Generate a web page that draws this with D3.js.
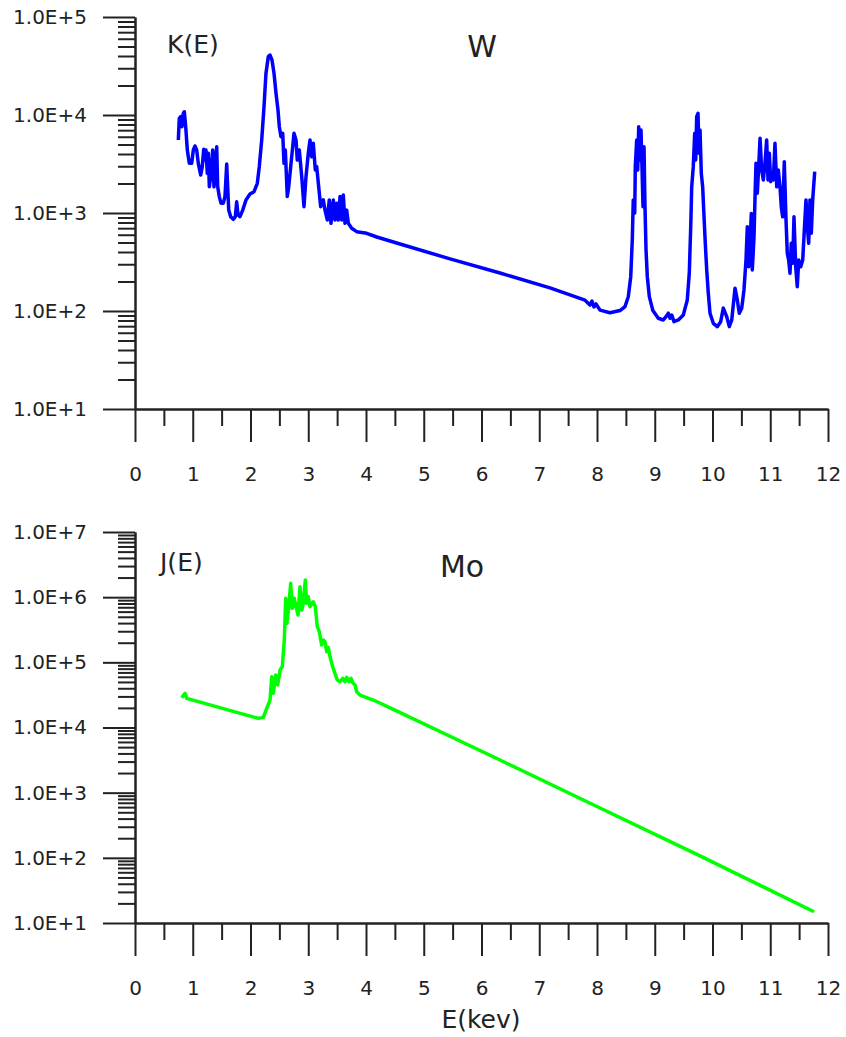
<!DOCTYPE html>
<html>
<head>
<meta charset="utf-8">
<script src="https://cdn.jsdelivr.net/npm/d3@7"></script>
<style>
  body { margin: 0; background: #fff; }
  svg { display: block; font-family: 'DejaVu Sans', sans-serif; }
  .axis path, .axis line { stroke: #222; stroke-width: 2; }
  .axis text { font-family: 'DejaVu Sans', sans-serif; font-size: 20px; fill: #222; }
</style>
</head>
<body>
<script>
// W spectrum K(E)
const energyW = [0.75, 0.767, 0.791, 0.814, 0.836, 0.854, 0.878, 0.906, 0.94, 0.982, 1.01, 1.039, 1.068, 1.096, 1.138,
  1.165, 1.19, 1.207, 1.229, 1.252, 1.269, 1.287, 1.311, 1.345, 1.368, 1.397, 1.415, 1.432, 1.46, 1.489, 1.529, 1.558,
  1.588, 1.605, 1.623, 1.657, 1.702, 1.737, 1.761, 1.784, 1.818, 1.865, 1.922, 1.991, 2.061, 2.118, 2.152, 2.194,
  2.234, 2.268, 2.308, 2.338, 2.372, 2.407, 2.442, 2.476, 2.499, 2.528, 2.558, 2.58, 2.603, 2.637, 2.662, 2.696,
  2.731, 2.753, 2.788, 2.81, 2.845, 2.887, 2.926, 2.961, 3.001, 3.03, 3.06, 3.087, 3.122, 3.146, 3.181, 3.215, 3.261,
  3.29, 3.33, 3.364, 3.394, 3.434, 3.463, 3.493, 3.52, 3.55, 3.579, 3.607, 3.636, 3.666, 3.694, 3.752, 3.839, 4.012,
  4.186, 4.589, 5.455, 6.32, 7.186, 7.792, 7.879, 7.913, 7.948, 7.983, 8.052, 8.225, 8.398, 8.485, 8.542, 8.584,
  8.611, 8.628, 8.653, 8.663, 8.687, 8.705, 8.722, 8.745, 8.762, 8.779, 8.797, 8.814, 8.831, 8.849, 8.871, 8.906,
  8.965, 9.061, 9.148, 9.195, 9.235, 9.264, 9.294, 9.333, 9.408, 9.494, 9.563, 9.598, 9.623, 9.64, 9.667, 9.692,
  9.709, 9.726, 9.749, 9.766, 9.784, 9.806, 9.83, 9.848, 9.875, 9.9, 9.927, 9.957, 10.014, 10.083, 10.142, 10.187,
  10.246, 10.291, 10.333, 10.39, 10.43, 10.464, 10.506, 10.545, 10.58, 10.603, 10.627, 10.649, 10.672, 10.689,
  10.719, 10.741, 10.753, 10.776, 10.8, 10.823, 10.852, 10.88, 10.909, 10.938, 10.961, 10.984, 11.008, 11.03, 11.053,
  11.082, 11.112, 11.139, 11.169, 11.191, 11.215, 11.243, 11.273, 11.295, 11.319, 11.342, 11.364, 11.389, 11.411,
  11.441, 11.468, 11.493, 11.528, 11.562, 11.584, 11.619, 11.642, 11.666, 11.688, 11.711, 11.735, 11.77];
const kW = [5560, 9250, 9610, 7600, 10400, 10800, 7600, 4390, 3210, 3210, 4390, 4830, 4390, 3210, 2440,
  2970, 4470, 3470, 4390, 2540, 4070, 1850, 2350, 4390, 1850, 3470, 4750, 1850, 1470, 1260, 1260, 1470,
  3160, 1850, 1070, 917, 862, 917, 1300, 955, 917, 1070, 1360, 1560, 1650, 2010, 2970, 5560,
  12200, 26700, 39400, 40900, 36400, 26700, 16600, 11250, 7600, 6010, 6500, 3210, 4390, 1470, 1850, 2970,
  4750, 6500, 5560, 3470, 4390, 2350, 1160, 2350, 4070, 5560, 3750, 5140, 2750, 2970, 1850, 1160, 1360,
  1070, 849, 1360, 785, 1360, 849, 1260, 849, 1470, 849, 1530, 785, 1070, 785, 698, 645, 621,
  569, 483, 340, 244, 172, 129, 115, 126, 110, 118, 102, 96, 101, 111, 140, 224,
  530, 1360, 1000, 2970, 5560, 2750, 7600, 3470, 7030, 2970, 1160, 4750, 1160, 419, 224, 140,
  102, 84.3, 81, 87.5, 95, 84.3, 91, 77.8, 81, 91, 129, 243, 725, 1850, 2970, 6500,
  3470, 9610, 10400, 4070, 7030, 2540, 1850, 1070, 491, 262, 152, 95, 74.9, 69.2, 77.8, 107,
  87.5, 69.2, 81, 171, 129, 95, 107, 164, 331, 725, 283, 453, 990, 262,
  573, 1850, 3210, 1590, 2970, 5780, 2750, 2170, 3210, 5560, 2170, 4070, 2090, 2540, 2170,
  5140, 1850, 2750, 1850, 1160, 917, 3340, 849, 388, 331, 243, 491, 307, 917,
  283, 177, 331, 283, 331, 573, 1360, 725, 491, 1360, 621, 1360, 2640];

// Mo spectrum J(E)
const energyMo = [0.809, 0.866, 0.895, 2.135, 2.222, 2.281, 2.338, 2.367, 2.395, 2.436, 2.471, 2.511, 2.551, 2.585,
  2.61, 2.632, 2.662, 2.696, 2.724, 2.758, 2.788, 2.823, 2.857, 2.887, 2.914, 2.949, 2.973, 3.001, 3.03, 3.06, 3.087,
  3.122, 3.157, 3.191, 3.233, 3.261, 3.29, 3.319, 3.347, 3.377, 3.423, 3.463, 3.503, 3.55, 3.597, 3.636, 3.666,
  3.706, 3.74, 3.77, 3.81, 3.839, 3.896, 4.126, 4.473, 6.32, 8.052, 9.784, 11.758];
const jMo = [28600, 33500, 28000, 13800, 14300, 19700, 26400, 60200, 33500, 63900, 44900, 76200, 85700, 220000,
  960000, 397000, 714000, 1630000, 675000, 960000, 714000, 532000, 1450000, 635000, 805000, 1830000, 805000, 1020000, 714000, 805000, 851000,
  714000, 352000, 295000, 184000, 220000, 207000, 146000, 170000, 122000, 85700, 67800, 53500, 50400, 56900, 50400, 58900,
  50400, 56900, 48700, 44900, 35400, 31500, 26400, 19000, 3170, 582, 107, 14.9];

const xTicks = d3.range(0, 13);
const xMinorTicks = d3.range(0.5, 12, 1);

const width = 846;
const height = 1037;
const left = 135;
const right = 828;

const svg = d3.select('body')
    .append('svg')
    .attr('width', width)
    .attr('height', height);

const xScale = d3.scaleLinear()
    .domain([0, 12])
    .range([left, right]);

function drawPanel(top, bottom, yDomain, energies, values, color, yName, yNameX, yNameY, title, titleX, titleY) {
    const yScale = d3.scaleLog()
        .domain(yDomain)
        .range([bottom, top]);

    const allTicks = yScale.ticks();
    const majorTicks = allTicks.filter(d => Math.abs(Math.log10(d) - Math.round(Math.log10(d))) < 1e-9);
    const minorTicks = allTicks.filter(d => majorTicks.indexOf(d) < 0);

    // minor log ticks first, then major ticks with labels
    svg.append('g')
        .attr('class', 'axis')
        .attr('transform', 'translate(' + left + ',0)')
        .call(d3.axisLeft(yScale).tickValues(minorTicks).tickSize(17).tickSizeOuter(0).tickFormat(''));

    svg.append('g')
        .attr('class', 'axis')
        .attr('transform', 'translate(' + left + ',0)')
        .call(d3.axisLeft(yScale)
            .tickValues(majorTicks)
            .tickSize(32)
            .tickSizeOuter(0)
            .tickPadding(16)
            .tickFormat(d => '1.0E+' + Math.round(Math.log10(d))));

    svg.append('g')
        .attr('class', 'axis')
        .attr('transform', 'translate(0,' + bottom + ')')
        .call(d3.axisBottom(xScale).tickValues(xMinorTicks).tickSize(17).tickSizeOuter(0).tickFormat(''));

    svg.append('g')
        .attr('class', 'axis')
        .attr('transform', 'translate(0,' + bottom + ')')
        .call(d3.axisBottom(xScale)
            .tickValues(xTicks)
            .tickSize(33)
            .tickSizeOuter(0)
            .tickPadding(25)
            .tickFormat(d3.format('d')));

    const line = d3.line()
        .x((d, i) => xScale(energies[i]))
        .y(d => yScale(d));

    svg.append('path')
        .datum(values)
        .attr('fill', 'none')
        .attr('stroke', color)
        .attr('stroke-width', 3.5)
        .attr('stroke-linejoin', 'round')
        .attr('d', line);

    svg.append('text')
        .attr('x', yNameX)
        .attr('y', yNameY)
        .style('font-size', '25px')
        .style('fill', '#222')
        .text(yName);

    svg.append('text')
        .attr('x', titleX)
        .attr('y', titleY)
        .style('font-size', '30px')
        .style('fill', '#222')
        .style('text-anchor', 'middle')
        .text(title);
}

drawPanel(17, 409, [10, 1e5], energyW, kW, '#0000ff', 'K(E)', 167, 53, 'W', 482, 57);
drawPanel(532, 923, [10, 1e7], energyMo, jMo, '#00ff00', 'J(E)', 160, 571, 'Mo', 462, 577);

svg.append('text')
    .attr('x', 481)
    .attr('y', 1028)
    .style('font-size', '25px')
    .style('fill', '#222')
    .style('text-anchor', 'middle')
    .text('E(kev)');
</script>
</body>
</html>
